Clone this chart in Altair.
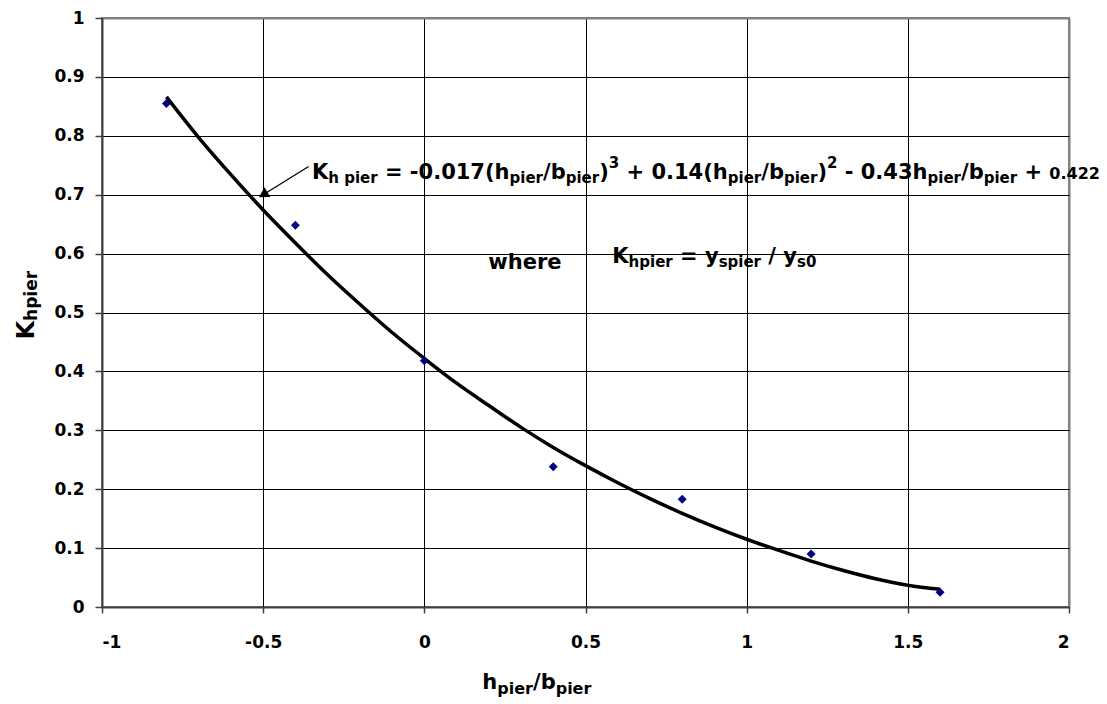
import altair as alt
import pandas as pd

# ---------------- data ----------------
x_ticks = [-1, -0.5, 0, 0.5, 1, 1.5, 2]
y_ticks = [0, 0.1, 0.2, 0.3, 0.4, 0.5, 0.6, 0.7, 0.8, 0.9, 1]

obs_x = [-0.8, -0.4, 0.0, 0.4, 0.8, 1.2, 1.6]
obs_y = [0.855, 0.648, 0.418, 0.238, 0.183, 0.090, 0.025]

fit_x = [-0.8, -0.7, -0.6, -0.5, -0.4, -0.3, -0.2, -0.1, 0.0, 0.1, 0.2, 0.3,
         0.4, 0.5, 0.6, 0.7, 0.8, 0.9, 1.0, 1.1, 1.2, 1.3, 1.4, 1.5, 1.6]
fit_y = [0.866, 0.797, 0.734, 0.674, 0.618, 0.564, 0.514, 0.466, 0.422, 0.380,
         0.342, 0.305, 0.271, 0.240, 0.211, 0.184, 0.159, 0.136, 0.115, 0.096,
         0.078, 0.062, 0.048, 0.037, 0.030]

# equation annotation: text pieces and their role (main / sub / sup / small)
eq_text = ["K", "h pier", " = -0.017(h", "pier", "/b", "pier", ")", "3",
           " + 0.14(h", "pier", "/b", "pier", ")", "2", " - 0.43h", "pier", "/b",
           "pier", " + ", "0.422"]
eq_role = ["main", "sub", "main", "sub", "main", "sub", "main", "sup",
           "main", "sub", "main", "sub", "main", "sup", "main", "sub", "main",
           "sub", "main", "small"]
eq_start = -0.3485      # x (data units) where "K" begins
eq_base = 0.7267        # y (data units) of the main baseline

wh_word = "where"
wh_word_x = 0.1985
wh_word_y = 0.5744
wh_text = ["K", "hpier", " = y", "spier", " / y", "s0"]
wh_role = ["main", "sub", "main", "sub", "main", "sub"]
wh_start = 0.5832
wh_base = 0.5848

xt_text = ["h", "pier", "/b", "pier"]
xt_role = ["main", "sub", "main", "sub"]
xt_start = 0.18
xt_base = -0.1391

yt_text = ["K", "hpier"]
yt_role = ["main", "sub"]
yt_start = 0.4541
yt_base = -1.2122

arrow_x = [-0.5]
arrow_y = [0.70]
arrow_x2 = [-0.359]
arrow_y2 = [0.748]

# ---------------- layout helpers ----------------
FONT = "DejaVu Sans"
W, H = 967, 589
PX_X = W / 3.0      # pixels per x unit
PX_Y = H / 1.0      # pixels per y unit

# DejaVu Sans Bold advance widths (em)
ADV = {" ": .348, "K": .775, "h": .712, "p": .716, "i": .343, "e": .678, "r": .493,
       "=": .838, "-": .415, ".": .380, "(": .457, ")": .457, "/": .365, "b": .716,
       "+": .838, "y": .652, "s": .595, "w": .924}
for d in "0123456789":
    ADV[d] = .696


def text_w(t, size):
    return sum(ADV.get(c, .6) for c in t) * size


def layout_h(texts, roles, start, base, sizes, shifts):
    rows, pos = [], start
    for t, r in zip(texts, roles):
        s = sizes[r]
        lead = len(t) - len(t.lstrip(" "))
        trail = len(t) - len(t.rstrip(" "))
        pos += text_w(" " * lead, s) / PX_X
        core = t.strip(" ")
        rows.append({"x": pos, "y": base + shifts[r] / PX_Y, "t": core, "s": s})
        pos += (text_w(core, s) + text_w(" " * trail, s)) / PX_X
    return rows


eq_sizes = {"main": 21, "sub": 15, "sup": 15, "small": 16}
eq_shift = {"main": 0, "sub": -4.5, "sup": 10.5, "small": 0}
rows = layout_h(eq_text, eq_role, eq_start, eq_base, eq_sizes, eq_shift)

wh_sizes = {"main": 21, "sub": 15}
wh_shift = {"main": 0, "sub": -4.3}
rows += layout_h(wh_text, wh_role, wh_start, wh_base, wh_sizes, wh_shift)
rows.append({"x": wh_word_x, "y": wh_word_y, "t": wh_word, "s": 21})

xt_sizes = {"main": 21, "sub": 16}
xt_shift = {"main": 0, "sub": -5}
rows += layout_h(xt_text, xt_role, xt_start, xt_base, xt_sizes, xt_shift)
ann_df = pd.DataFrame(rows)

yt_sizes = {"main": 24, "sub": 17}
yt_shift = {"main": 0, "sub": 3.7}
yrows, pos = [], yt_start
for t, r in zip(yt_text, yt_role):
    yrows.append({"x": yt_base + yt_shift[r] / PX_X, "y": pos, "t": t, "s": yt_sizes[r]})
    pos += text_w(t, yt_sizes[r]) / PX_Y
yt_df = pd.DataFrame(yrows)

obs_df = pd.DataFrame({"x": obs_x, "y": obs_y})
fit_df = pd.DataFrame({"x": fit_x, "y": fit_y})
arr_df = pd.DataFrame({"x": arrow_x, "y": arrow_y, "x2": arrow_x2, "y2": arrow_y2})

xs = alt.Scale(domain=[-1, 2], nice=False, zero=False)
ys = alt.Scale(domain=[0, 1], nice=False, zero=False)

x_axis = alt.Axis(
    values=x_ticks, title="",
    labelExpr="datum.value < 0 ? '-' + format(-datum.value, '~g') : format(datum.value, '~g')",
    grid=True,
    gridColor={"condition": {"test": "datum.value == 2", "value": "#808080"}, "value": "#000000"},
    gridWidth={"condition": {"test": "datum.value == 2", "value": 2}, "value": 1},
    tickSize=6, labelPadding=21, labelFontSize=17,
)
y_axis = alt.Axis(
    values=y_ticks, title="",
    labelExpr="format(datum.value, '~g')",
    grid=True,
    gridColor={"condition": {"test": "datum.value == 1", "value": "#808080"}, "value": "#000000"},
    gridWidth={"condition": {"test": "datum.value == 1", "value": 2}, "value": 1},
    tickSize=7, labelPadding=11, labelFontSize=17,
)

X = alt.X("x:Q", scale=xs, axis=x_axis)
Y = alt.Y("y:Q", scale=ys, axis=y_axis)

fit = alt.Chart(fit_df).mark_line(color="black", strokeWidth=3.5, interpolate="monotone").encode(x=X, y=Y)

pts = alt.Chart(obs_df).mark_point(shape="diamond", filled=True, color="#000080",
                                   size=80, opacity=1).encode(x=X, y=Y)

arrow = alt.Chart(arr_df).mark_rule(color="black", strokeWidth=1.3).encode(
    x=X, y=Y, x2="x2:Q", y2="y2:Q")
head = alt.Chart(arr_df).mark_point(shape="triangle-up", filled=True, color="black",
                                    size=130, opacity=1, angle=239).encode(x=X, y=Y)

ann = alt.Chart(ann_df).mark_text(font=FONT, fontWeight="bold", align="left",
                                  baseline="alphabetic", color="black").encode(
    x=X, y=Y, text="t:N", size=alt.Size("s:Q", scale=None, legend=None))

ytitle = alt.Chart(yt_df).mark_text(font=FONT, fontWeight="bold", align="left",
                                    baseline="alphabetic", color="black", angle=270).encode(
    x=X, y=Y, text="t:N", size=alt.Size("s:Q", scale=None, legend=None))

chart = alt.layer(fit, pts, arrow, head, ann, ytitle).properties(
    width=W, height=H,
    autosize=alt.AutoSizeParams(type="none"),
    padding={"left": 94, "top": 10, "right": 30, "bottom": 96},
).configure_view(
    stroke="#808080", strokeWidth=2
).configure_axis(
    labelFont=FONT, labelFontWeight="bold", labelColor="black",
    domainColor="#404040", domainWidth=2,
    tickColor="#404040", tickWidth=1.5,
)

chart.save("out.html", embed_options={"renderer": "svg", "actions": False})
